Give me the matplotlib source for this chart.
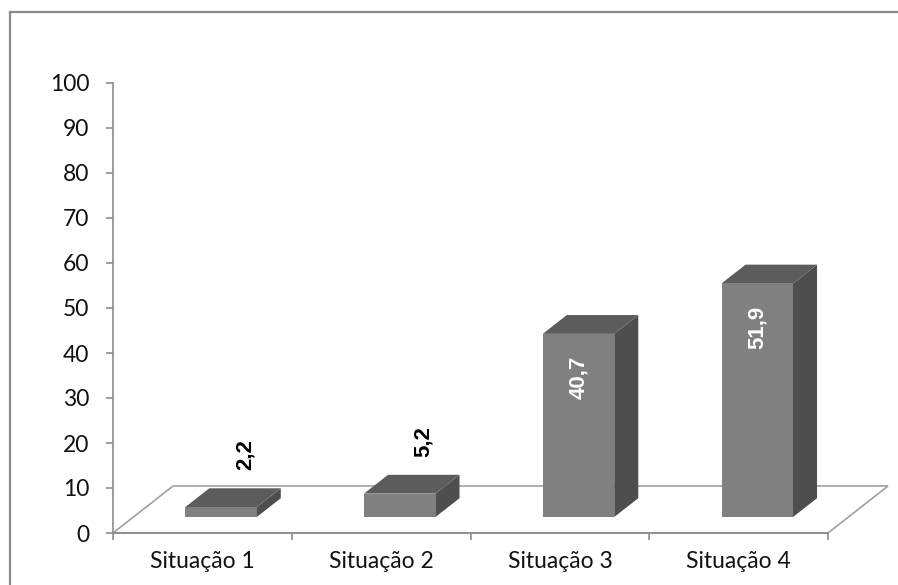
import matplotlib
matplotlib.use("Agg")
import matplotlib.pyplot as plt
from matplotlib.patches import Polygon
from matplotlib.lines import Line2D

categories = ["Situação 1", "Situação 2", "Situação 3", "Situação 4"]
values = [2.2, 5.2, 40.7, 51.9]
value_labels = ["2,2", "5,2", "40,7", "51,9"]
y_ticks = [0, 10, 20, 30, 40, 50, 60, 70, 80, 90, 100]

plt.rcParams["font.family"] = ["Lato", "DejaVu Sans"]
label_font = ["Liberation Sans", "DejaVu Sans"]

W, H = 898, 585
fig = plt.figure(figsize=(W / 100, H / 100), dpi=100)
fig.patch.set_facecolor("white")

# chart frame (left and top edges visible)
frame_col = "#8a8a8a"
fig.add_artist(Line2D([10 / W, 10 / W], [0, 1 - 12 / H], transform=fig.transFigure,
                      color=frame_col, lw=1.6))
fig.add_artist(Line2D([10 / W, 1], [1 - 12 / H, 1 - 12 / H], transform=fig.transFigure,
                      color=frame_col, lw=1.6))

ax = fig.add_axes([113 / W, 52 / H, 715 / W, 450 / H])
ax.set_xlim(0, len(categories))
ax.set_ylim(0, 100)

axis_col = "#8c8c8c"
text_col = "#111111"
for s in ("top", "right"):
    ax.spines[s].set_visible(False)
for s in ("left", "bottom"):
    ax.spines[s].set_color(axis_col)
    ax.spines[s].set_linewidth(1.2)

ax.set_yticks(y_ticks)
ax.set_yticklabels([str(t) for t in y_ticks])
ax.tick_params(axis="y", direction="out", length=5, width=1.2, color=axis_col,
               labelsize=16.5, pad=12, labelcolor=text_col)

ax.set_xticks(range(len(categories) + 1))
ax.set_xticklabels([])
ax.set_xticks([i + 0.5 for i in range(len(categories))], minor=True)
ax.set_xticklabels(categories, minor=True)
ax.tick_params(axis="x", which="major", direction="out", length=5, width=1.2, color=axis_col)
ax.tick_params(axis="x", which="minor", length=0, labelsize=16.5, pad=13, labelcolor=text_col)

# oblique depth offset of the floor, in data units
DX = 0.336
DY = 10.45
n = len(categories)

floor = Polygon([(0, 0), (n, 0), (n + DX, DY), (DX, DY)], closed=True,
                facecolor="none", edgecolor="#a0a0a0", lw=1.2, clip_on=False, zorder=1)
ax.add_patch(floor)

# bars placed inside the floor depth
f0, f1 = 0.34, 0.74
bw = 0.40
front_col, top_col, side_col = "#808080", "#5c5c5c", "#4e4e4e"

for i, v in enumerate(values):
    xc = i + 0.49
    x0, x1 = xc - bw / 2, xc + bw / 2
    bx0, by0 = DX * f0, DY * f0
    bx1, by1 = DX * f1, DY * f1
    front = Polygon([(x0 + bx0, by0), (x1 + bx0, by0), (x1 + bx0, by0 + v), (x0 + bx0, by0 + v)],
                    closed=True, facecolor=front_col, edgecolor="none", zorder=3, clip_on=False)
    top = Polygon([(x0 + bx0, by0 + v), (x1 + bx0, by0 + v), (x1 + bx1, by1 + v), (x0 + bx1, by1 + v)],
                  closed=True, facecolor=top_col, edgecolor="none", zorder=3, clip_on=False)
    side = Polygon([(x1 + bx0, by0), (x1 + bx1, by1), (x1 + bx1, by1 + v), (x1 + bx0, by0 + v)],
                   closed=True, facecolor=side_col, edgecolor="none", zorder=3, clip_on=False)
    for p in (side, top, front):
        ax.add_patch(p)

    if v > 20:
        ax.annotate(value_labels[i], xy=(xc + bx0, by0 + v), xytext=(0, -16),
                    textcoords="offset points", rotation=90, ha="center", va="top",
                    fontsize=16, fontweight="bold", family=label_font, color="white", zorder=5)
    else:
        ax.annotate(value_labels[i], xy=(xc + bx1, by1 + v), xytext=(0, 13),
                    textcoords="offset points", rotation=90, ha="center", va="bottom",
                    fontsize=16, fontweight="bold", family=label_font, color="black", zorder=5)

fig.savefig("out.png", dpi=100, facecolor="white")
